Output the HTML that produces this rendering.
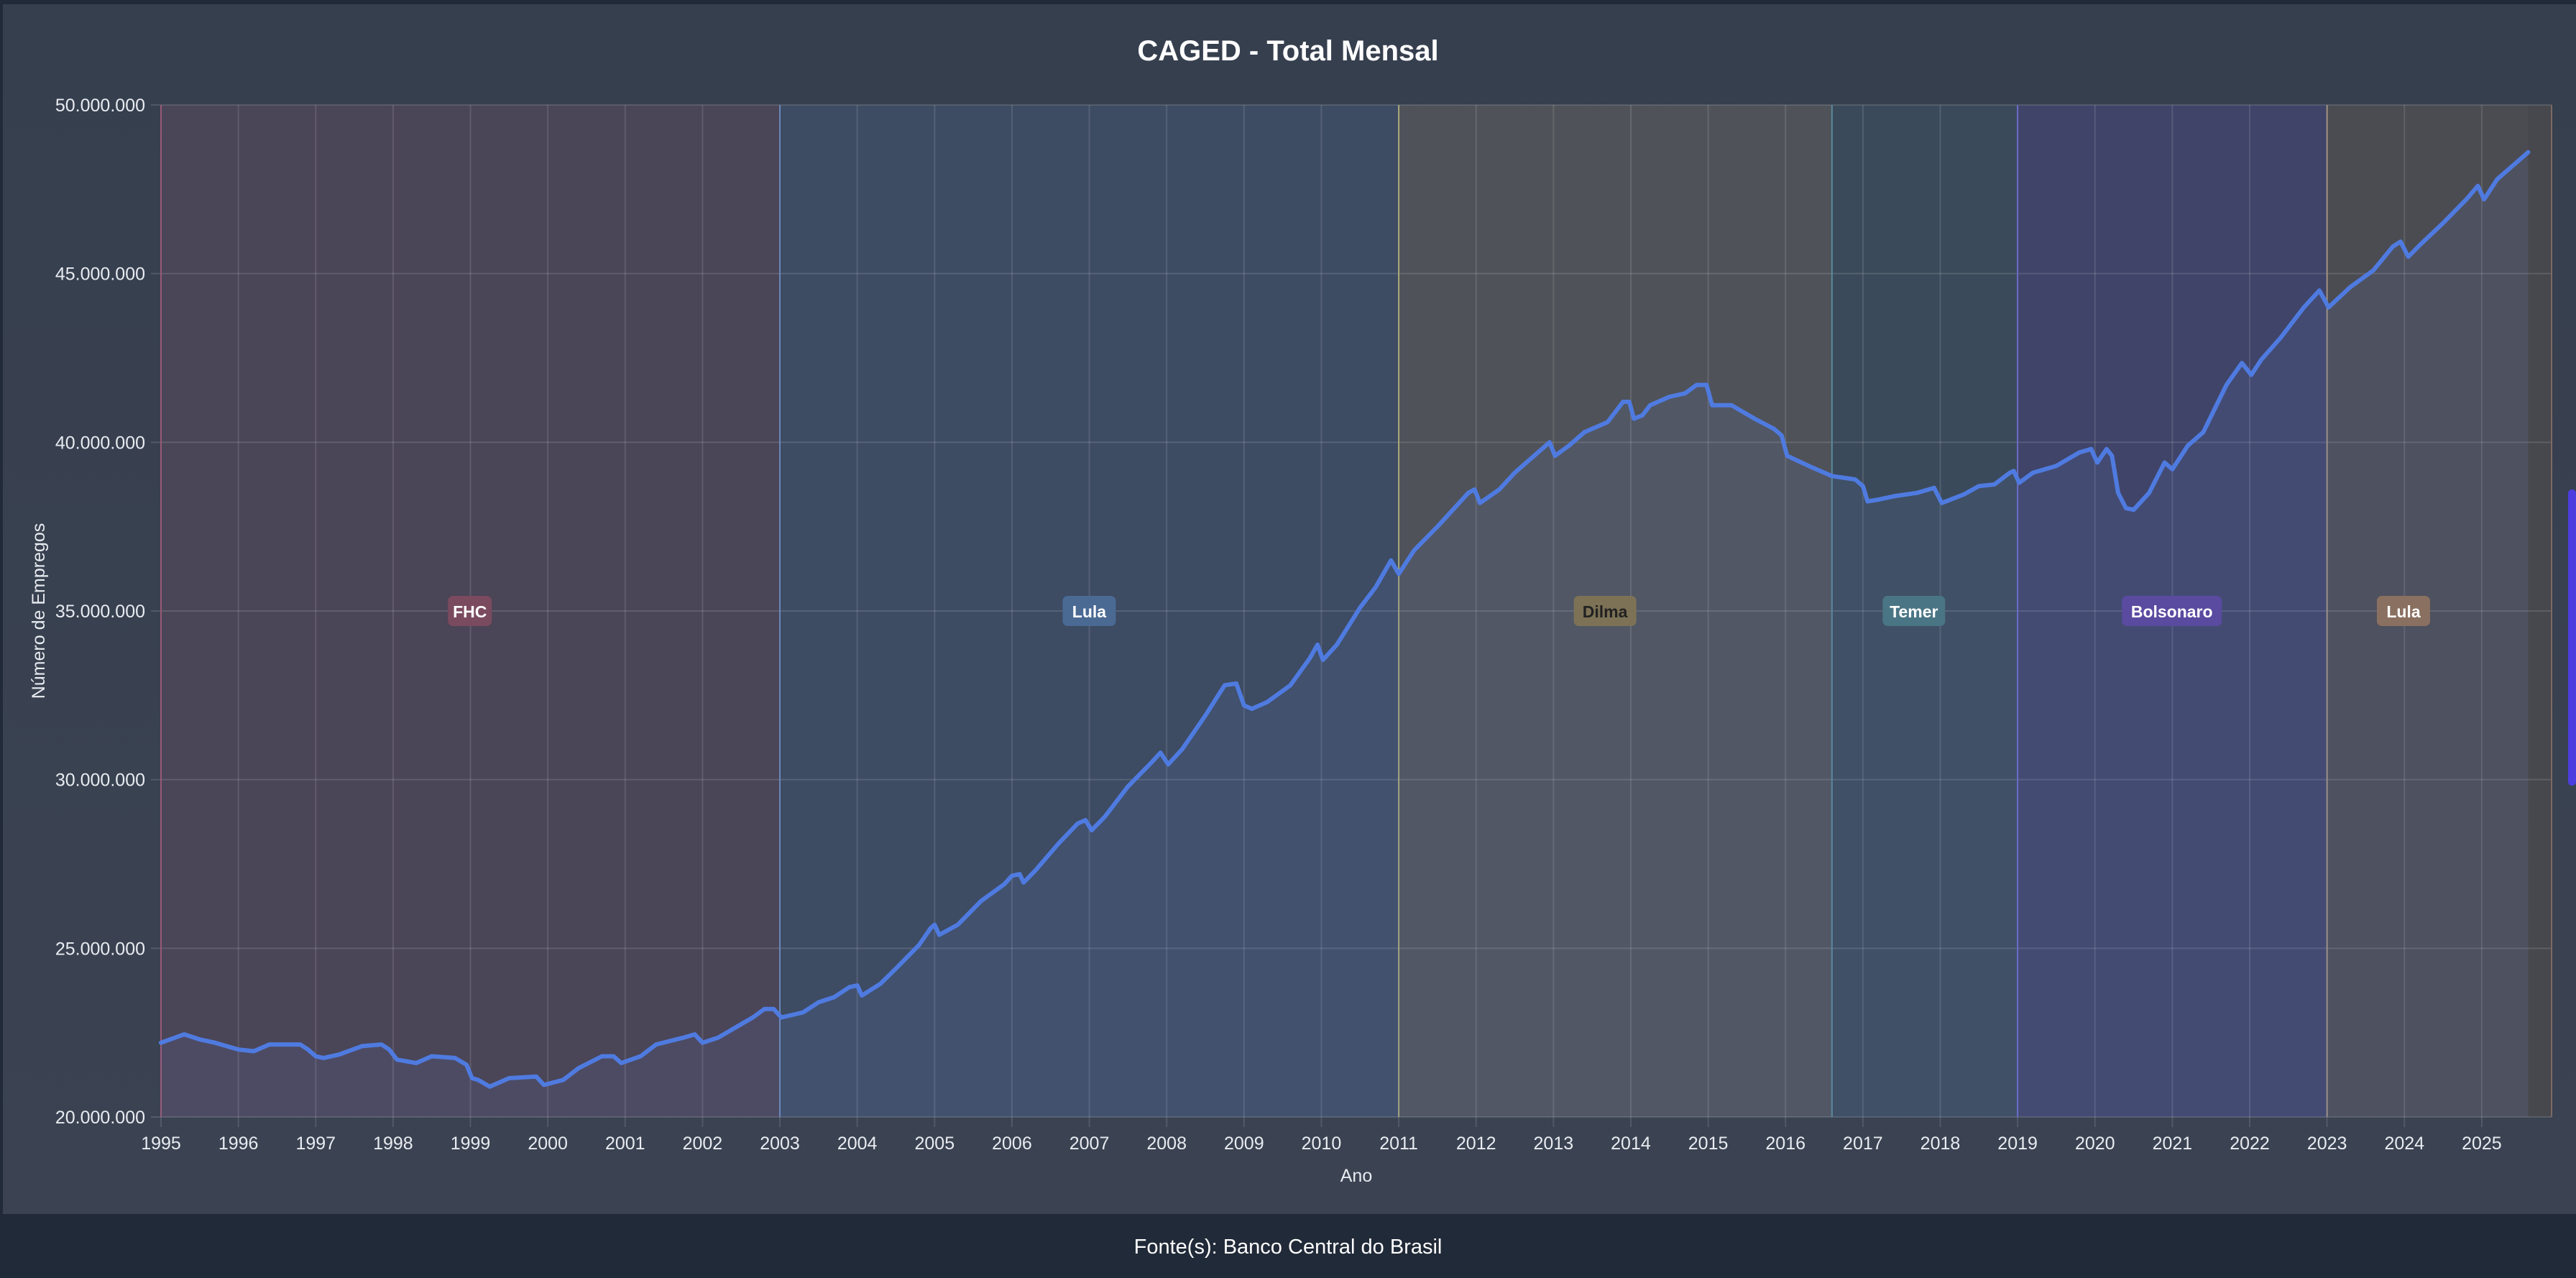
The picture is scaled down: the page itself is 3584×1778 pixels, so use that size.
<!DOCTYPE html>
<html><head><meta charset="utf-8">
<style>
html,body{margin:0;padding:0;background:#212a38;}
svg{display:block;}
text{font-family:"Liberation Sans",sans-serif;}
</style></head>
<body>
<svg id="s" width="3584" height="1778" viewBox="0 0 3584 1778" xmlns="http://www.w3.org/2000/svg">
<defs>
<linearGradient id="bg" x1="0" y1="0" x2="0" y2="1">
<stop offset="0" stop-color="#363f4e"/><stop offset="1" stop-color="#3b4352"/>
</linearGradient>
</defs>
<rect x="0" y="0" width="3584" height="1778" fill="#212a38"/>
<rect x="4" y="6" width="3580" height="1683" fill="url(#bg)"/>
<g id="plot"></g>
<text x="1792" y="84" font-size="40" font-weight="bold" fill="#ffffff" text-anchor="middle">CAGED - Total Mensal</text>
<text x="1887" y="1644" font-size="25" fill="#e8ebf0" text-anchor="middle">Ano</text>
<text transform="translate(62,850) rotate(-90)" font-size="25" fill="#e8ebf0" text-anchor="middle">Número de Empregos</text>
<text x="1792" y="1744" font-size="29" fill="#ffffff" text-anchor="middle">Fonte(s): Banco Central do Brasil</text>
<rect x="3573" y="681" width="11" height="412" rx="5" fill="#4b3de0"/>
</svg>
<script>
var L=224,R=3550,T=146,B=1554;
function X(y){return L+(y-1995)*107.63;}
function Y(v){return B-(v-20)*(B-T)/30;}
var g=document.getElementById('plot'),h='';
var regs=[[1995,2003,'#4a4557','#9a5a78','FHC','#7a4a5e','#fff',286],
[2003,2011,'#3d4b63','#6a88b8','Lula','#4a6a94','#fff',663],
[2011,2016.6,'#4f5258','#a8a878','Dilma','#7d7256','#222',977],
[2016.6,2019,'#3b4a5a','#5a8a9a','Temer','#4a7585','#fff',1165],
[2019,2023,'#3f4468','#6a6ac8','Bolsonaro','#5a4aa0','#fff',1322],
[2023,2025.88,'#4b4b52','#a09080','Lula','#8a7060','#fff',1463]];
regs.forEach(function(r){
 var a=X(r[0]),b=(r[1]>2025.8?R:X(r[1]));
 h+='<rect x="'+a+'" y="'+T+'" width="'+(b-a)+'" height="'+(B-T)+'" fill="'+r[2]+'"/>';
});
h+='<rect x="'+X(2025.6)+'" y="'+T+'" width="'+(R-X(2025.6))+'" height="'+(B-T)+'" fill="#47474e"/>';
for(var v=20;v<=50;v+=5){h+='<line x1="'+(L-14)+'" x2="'+R+'" y1="'+Y(v)+'" y2="'+Y(v)+'" stroke="rgba(255,255,255,0.13)" stroke-width="2"/>';
 h+='<text x="'+(L-22)+'" y="'+(Y(v)+9)+'" font-size="25" fill="#e8ebf0" text-anchor="end">'+v+'.000.000</text>';}
for(var yr=1995;yr<=2025;yr++){h+='<line x1="'+X(yr)+'" x2="'+X(yr)+'" y1="'+T+'" y2="'+(B+14)+'" stroke="rgba(255,255,255,0.12)" stroke-width="2"/>';
 h+='<text x="'+X(yr)+'" y="'+(B+45)+'" font-size="25" fill="#e8ebf0" text-anchor="middle">'+yr+'</text>';}
regs.forEach(function(r){
 var a=X(r[0]);
 h+='<line x1="'+a+'" x2="'+a+'" y1="'+T+'" y2="'+B+'" stroke="'+r[3]+'" stroke-width="2"/>';
});
h+='<line x1="'+R+'" x2="'+R+'" y1="'+T+'" y2="'+B+'" stroke="#7a6a64" stroke-width="2"/>';
var d=[[1995,22.2],[1995.3,22.45],[1995.5,22.3],[1995.7,22.2],[1996,22.0],[1996.2,21.95],[1996.4,22.15],[1996.8,22.15],[1996.9,22.0],[1997,21.8],[1997.1,21.75],[1997.3,21.85],[1997.6,22.1],[1997.85,22.15],[1997.95,22.0],[1998.05,21.7],[1998.3,21.6],[1998.5,21.8],[1998.8,21.75],[1998.95,21.55],[1999.02,21.15],[1999.1,21.1],[1999.25,20.9],[1999.5,21.15],[1999.85,21.2],[1999.95,20.95],[2000.2,21.1],[2000.4,21.45],[2000.7,21.8],[2000.85,21.8],[2000.95,21.6],[2001.2,21.8],[2001.4,22.15],[2001.75,22.35],[2001.9,22.45],[2002.0,22.2],[2002.2,22.35],[2002.5,22.75],[2002.65,22.95],[2002.8,23.2],[2002.92,23.2],[2003.02,22.95],[2003.3,23.1],[2003.5,23.4],[2003.7,23.55],[2003.9,23.85],[2004.0,23.9],[2004.06,23.6],[2004.3,23.95],[2004.5,24.4],[2004.8,25.1],[2004.95,25.6],[2005.0,25.7],[2005.06,25.4],[2005.3,25.7],[2005.6,26.4],[2005.9,26.9],[2006.0,27.15],[2006.1,27.2],[2006.15,26.95],[2006.3,27.3],[2006.6,28.1],[2006.85,28.7],[2006.95,28.8],[2007.03,28.5],[2007.2,28.9],[2007.5,29.8],[2007.8,30.5],[2007.92,30.8],[2008.02,30.45],[2008.2,30.9],[2008.5,31.9],[2008.75,32.8],[2008.9,32.85],[2009.0,32.2],[2009.1,32.1],[2009.3,32.3],[2009.6,32.8],[2009.85,33.6],[2009.95,34.0],[2010.02,33.55],[2010.2,34.0],[2010.5,35.1],[2010.7,35.7],[2010.9,36.5],[2011.0,36.1],[2011.2,36.8],[2011.5,37.5],[2011.7,38.0],[2011.9,38.5],[2011.98,38.6],[2012.05,38.2],[2012.3,38.6],[2012.5,39.1],[2012.8,39.7],[2012.95,40.0],[2013.02,39.6],[2013.2,39.9],[2013.4,40.3],[2013.7,40.6],[2013.9,41.2],[2013.98,41.2],[2014.04,40.7],[2014.15,40.8],[2014.25,41.1],[2014.5,41.35],[2014.7,41.45],[2014.85,41.7],[2014.98,41.7],[2015.05,41.1],[2015.3,41.1],[2015.6,40.7],[2015.85,40.4],[2015.95,40.2],[2016.02,39.6],[2016.3,39.3],[2016.6,39.0],[2016.9,38.9],[2017.0,38.7],[2017.06,38.25],[2017.2,38.3],[2017.4,38.4],[2017.7,38.5],[2017.92,38.65],[2018.02,38.2],[2018.3,38.45],[2018.5,38.7],[2018.7,38.75],[2018.9,39.1],[2018.95,39.15],[2019.02,38.8],[2019.2,39.1],[2019.5,39.3],[2019.8,39.7],[2019.95,39.8],[2020.03,39.4],[2020.15,39.8],[2020.22,39.6],[2020.3,38.5],[2020.4,38.05],[2020.5,38.0],[2020.7,38.5],[2020.9,39.4],[2021.0,39.2],[2021.2,39.9],[2021.4,40.3],[2021.7,41.7],[2021.9,42.35],[2022.02,42.0],[2022.15,42.45],[2022.4,43.1],[2022.7,44.0],[2022.9,44.5],[2023.02,44.0],[2023.3,44.6],[2023.6,45.1],[2023.85,45.8],[2023.95,45.95],[2024.05,45.5],[2024.2,45.85],[2024.5,46.5],[2024.8,47.2],[2024.95,47.6],[2025.03,47.2],[2025.2,47.8],[2025.4,48.2],[2025.6,48.6]];
var p=d.map(function(q,i){return (i?'L':'M')+X(q[0]).toFixed(1)+' '+Y(q[1]).toFixed(1);}).join(' ');
h+='<path d="'+p+' L'+X(2025.6)+' '+B+' L'+L+' '+B+' Z" fill="rgba(110,140,220,0.10)"/>';
h+='<path d="'+p+'" fill="none" stroke="#4f7be0" stroke-width="6" stroke-linejoin="round" stroke-linecap="round"/>';
regs.forEach(function(r){
 var c=r[7]*2.2857;
 var w=r[4].length*13+22;
 h+='<rect x="'+(c-w/2)+'" y="829" width="'+w+'" height="42" rx="7" fill="'+r[5]+'"/>';
 h+='<text x="'+c+'" y="859" font-size="23" font-weight="bold" fill="'+r[6]+'" text-anchor="middle">'+r[4]+'</text>';
});
g.innerHTML=h;
</script>
</body></html>
